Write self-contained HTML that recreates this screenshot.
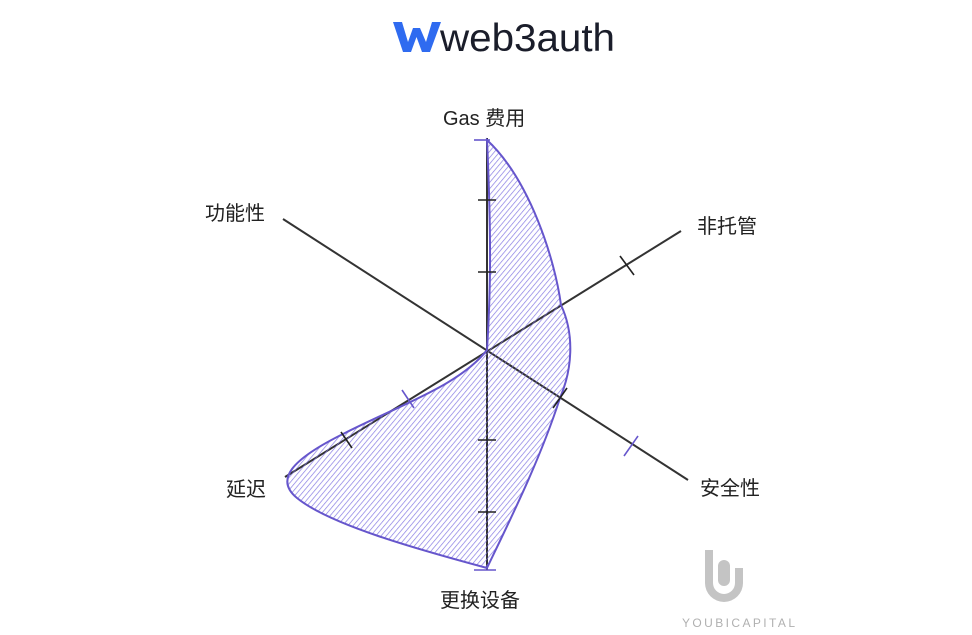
<!DOCTYPE html>
<html><head><meta charset="utf-8"><style>
html,body{margin:0;padding:0;background:#fff;width:972px;height:635px;overflow:hidden}
svg{display:block}
text{font-family:"Liberation Sans","Noto Sans CJK SC",sans-serif;fill:#222}
</style></head><body>
<svg width="972" height="635" viewBox="0 0 972 635">
<defs>
<pattern id="h" patternUnits="userSpaceOnUse" width="4" height="4" patternTransform="rotate(40)">
<line x1="0" y1="0" x2="0" y2="4" stroke="#7a6ee0" stroke-width="1.4"/>
</pattern>
</defs>
<path d="M393,22 L402,22 L408,42 L413,28 L420,28 L426,42 L432,22 L441,22 L430,52 L422,52 L416.5,37 L411,52 L403,52 Z" fill="#2f6bf0"/>
<text x="440" y="51" font-size="39" style="fill:#1a1d2a" textLength="175" lengthAdjust="spacingAndGlyphs">web3auth</text>
<g stroke="#333" stroke-width="2" fill="none">
<line x1="487" y1="138" x2="487" y2="570"/>
<line x1="285" y1="477" x2="681" y2="231"/>
<line x1="283" y1="219" x2="688" y2="480"/>
</g>
<path d="M487,140 C530,180 555,260 561,305 C575,335 572,370 560,398 C540,460 510,520 487,568 C420,550 330,525 297,498 C275,480 290,460 345,433 C400,405 460,385 487,350 C490,300 492,250 487,140 Z" fill="url(#h)" fill-opacity="0.9" stroke="#6656cc" stroke-width="2"/>
<g stroke="#222" stroke-width="1.6">
<line x1="478" y1="200" x2="496" y2="200"/>
<line x1="478" y1="272" x2="496" y2="272"/>
<line x1="478" y1="440" x2="496" y2="440"/>
<line x1="478" y1="512" x2="496" y2="512"/>
<line x1="620" y1="256" x2="634" y2="275"/>
<line x1="341" y1="432" x2="352" y2="448"/>
<line x1="567" y1="388" x2="553" y2="408"/>
</g>
<g stroke="#6656cc" stroke-width="1.6">
<line x1="402" y1="390" x2="414" y2="408"/>
<line x1="638" y1="436" x2="624" y2="456"/>
<line x1="474" y1="570" x2="496" y2="570"/>
<line x1="474" y1="140" x2="490" y2="140"/>
</g>
<text x="443" y="125" font-size="20">Gas 费用</text>
<text x="205" y="220" font-size="20">功能性</text>
<text x="697" y="233" font-size="20">非托管</text>
<text x="700" y="495" font-size="20">安全性</text>
<text x="226" y="496" font-size="20">延迟</text>
<text x="440" y="607" font-size="20">更换设备</text>
<path d="M705,550 L713,550 L713,583 A11,11 0 0 0 735,583 L735,568 L743,568 L743,583 A19,19 0 0 1 705,583 Z" fill="#c4c4c4"/>
<rect x="718" y="560" width="12" height="26" rx="6" fill="#c4c4c4"/>
<text x="682" y="627" font-size="12" style="fill:#b0b0b0" textLength="113" lengthAdjust="spacing">YOUBICAPITAL</text>
</svg>
</body></html>
